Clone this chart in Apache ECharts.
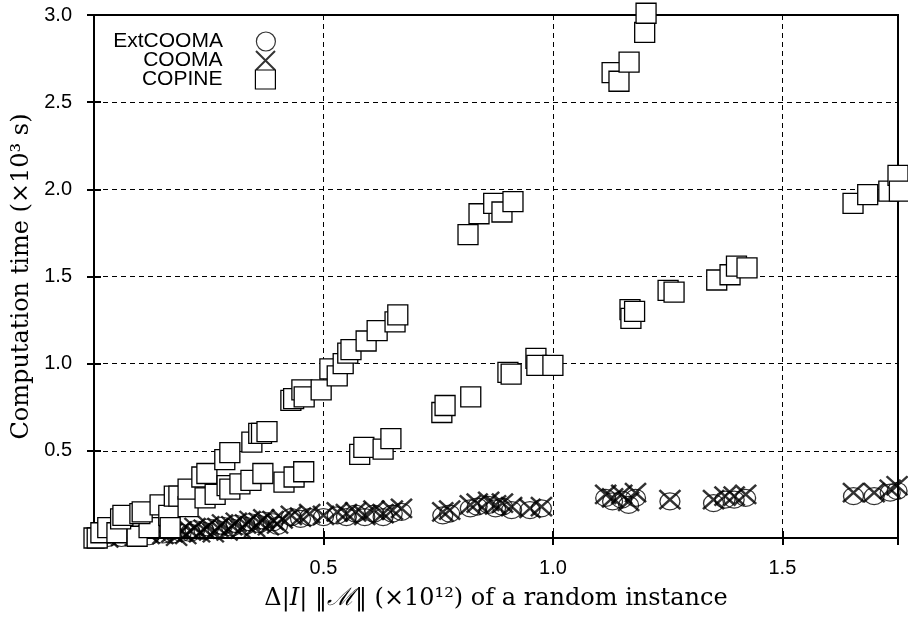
<!DOCTYPE html>
<html>
<head>
<meta charset="utf-8">
<script src="https://cdn.jsdelivr.net/npm/echarts@6/dist/echarts.min.js"></script>
<style>
  html, body { margin: 0; padding: 0; background: #fff; }
  #main { width: 908px; height: 619px; }
</style>
</head>
<body>
<div id="main"></div>
<script>
// axis ticks
var xTicks = [0.5, 1.0, 1.5];
var yTicks = [0.5, 1.0, 1.5, 2.0, 2.5, 3.0];

// ExtCOOMA results (x 10^12, x 10^3 s)
var extcoomaPoints = [
    [0.03, 0.00], [0.06, 0.00], [0.09, 0.01], [0.12, 0.01], [0.15, 0.02], [0.17, 0.02],
    [0.19, 0.03], [0.21, 0.03], [0.22, 0.05], [0.24, 0.04], [0.25, 0.06], [0.27, 0.05],
    [0.28, 0.07], [0.30, 0.06], [0.31, 0.08], [0.33, 0.07], [0.34, 0.09], [0.36, 0.08],
    [0.37, 0.10], [0.39, 0.09], [0.40, 0.07],
    [0.43, 0.12], [0.45, 0.11], [0.47, 0.12], [0.50, 0.12], [0.53, 0.13], [0.55, 0.12],
    [0.57, 0.14], [0.59, 0.12], [0.61, 0.14], [0.63, 0.12], [0.65, 0.14], [0.67, 0.15],
    [0.76, 0.13], [0.775, 0.14], [0.82, 0.17], [0.835, 0.18], [0.86, 0.19], [0.875, 0.17],
    [0.89, 0.18], [0.91, 0.16], [0.95, 0.16], [0.975, 0.17],
    [1.115, 0.23], [1.13, 0.21], [1.15, 0.22], [1.165, 0.19], [1.18, 0.23], [1.255, 0.21],
    [1.35, 0.20], [1.375, 0.22], [1.395, 0.22], [1.42, 0.23],
    [1.655, 0.24], [1.70, 0.24], [1.735, 0.26], [1.75, 0.27]
];

// COOMA results
var coomaPoints = [
    [0.03, 0.00], [0.06, 0.01], [0.09, 0.01], [0.12, 0.02], [0.15, 0.02], [0.17, 0.03],
    [0.18, 0.01], [0.19, 0.04], [0.20, 0.02], [0.21, 0.04], [0.22, 0.06], [0.23, 0.03],
    [0.24, 0.05], [0.25, 0.07], [0.26, 0.03], [0.27, 0.06], [0.28, 0.08], [0.29, 0.04],
    [0.30, 0.07], [0.31, 0.09], [0.32, 0.05], [0.33, 0.08], [0.34, 0.10], [0.35, 0.06],
    [0.36, 0.09], [0.37, 0.11], [0.38, 0.07], [0.39, 0.10], [0.40, 0.08], [0.41, 0.11],
    [0.43, 0.13], [0.45, 0.12], [0.47, 0.14], [0.50, 0.13], [0.53, 0.15], [0.55, 0.14],
    [0.57, 0.15], [0.59, 0.13], [0.61, 0.16], [0.63, 0.14], [0.65, 0.16], [0.67, 0.17],
    [0.76, 0.15], [0.775, 0.16], [0.82, 0.19], [0.835, 0.20], [0.86, 0.21], [0.875, 0.19],
    [0.89, 0.20], [0.91, 0.18], [0.95, 0.17], [0.975, 0.18],
    [1.115, 0.25], [1.13, 0.23], [1.15, 0.25], [1.165, 0.21], [1.18, 0.26], [1.255, 0.22],
    [1.35, 0.22], [1.375, 0.24], [1.395, 0.24], [1.42, 0.25],
    [1.655, 0.26], [1.70, 0.26], [1.735, 0.28], [1.75, 0.30]
];

// COPINE results
var copinePoints = [
    [0.0, 0.00], [0.007, 0.00], [0.015, 0.03], [0.03, 0.06], [0.05, 0.03], [0.094, 0.01], [0.12, 0.06],
    [0.058, 0.11], [0.063, 0.13], [0.10, 0.14], [0.105, 0.15], [0.144, 0.19], [0.163, 0.13], [0.166, 0.06],
    [0.175, 0.24], [0.185, 0.24], [0.205, 0.18], [0.205, 0.28], [0.235, 0.35], [0.242, 0.23],
    [0.246, 0.37], [0.264, 0.25], [0.285, 0.45], [0.29, 0.30], [0.296, 0.28], [0.296, 0.49],
    [0.318, 0.31], [0.342, 0.33], [0.344, 0.55], [0.359, 0.60], [0.365, 0.60], [0.368, 0.37],
    [0.377, 0.61], [0.414, 0.32], [0.429, 0.79], [0.435, 0.80], [0.436, 0.35], [0.453, 0.85],
    [0.457, 0.38], [0.458, 0.81], [0.495, 0.85], [0.514, 0.97], [0.53, 0.93], [0.543, 1.00],
    [0.553, 1.06], [0.56, 1.08], [0.579, 0.48], [0.588, 0.52], [0.593, 1.13], [0.617, 1.19],
    [0.630, 0.51], [0.647, 0.57], [0.656, 1.24], [0.662, 1.28],
    [0.758, 0.72], [0.765, 0.76], [0.815, 1.74], [0.821, 0.81], [0.839, 1.86], [0.871, 1.92],
    [0.889, 1.87], [0.902, 0.95], [0.909, 0.94], [0.913, 1.93], [0.963, 1.03], [0.965, 0.99],
    [1.000, 0.99], [1.129, 2.67], [1.144, 2.62], [1.166, 2.73], [1.168, 1.31], [1.170, 1.26],
    [1.178, 1.30], [1.200, 2.90], [1.203, 3.01], [1.251, 1.42], [1.264, 1.41],
    [1.357, 1.48], [1.386, 1.51], [1.40, 1.56], [1.423, 1.55],
    [1.654, 1.92], [1.686, 1.97], [1.732, 1.99], [1.752, 2.08], [1.755, 1.99]
];

var crossPath = 'path://M0,0L10,10M10,0L0,10';
var sansFont = '"Liberation Sans", Arial, Helvetica, sans-serif';
var serifFont = '"DejaVu Serif", "Liberation Serif", serif';

var chart = echarts.init(document.getElementById('main'));

function fmt(v) {
    return v.toFixed(1);
}

function legendAt(name, top, icon, style) {
    return {
        data: [{ name: name, icon: icon, itemStyle: style }],
        orient: 'vertical',
        align: 'right',
        right: 627,
        top: top,
        itemWidth: 20,
        itemHeight: 19,
        textStyle: { fontFamily: sansFont, fontSize: 21, color: '#000', padding: [0, 28, 0, 0] }
    };
}

var option = {
    backgroundColor: '#fff',
    animation: false,
    grid: {
        left: 94, right: 10, top: 15, bottom: 81,
        show: true, borderColor: '#000', borderWidth: 2, backgroundColor: 'transparent'
    },
    legend: [
        legendAt('ExtCOOMA', 26, 'circle', { color: 'rgba(0,0,0,0)', borderColor: '#000', borderWidth: 1.2 }),
        legendAt('COOMA', 45, crossPath, { color: 'rgba(0,0,0,0)', borderColor: '#000', borderWidth: 2 }),
        legendAt('COPINE', 64, 'rect', { color: '#fff', borderColor: '#000', borderWidth: 1.2 })
    ],
    xAxis: [{
        type: 'value', min: 0, max: 1.752, interval: 0.5,
        name: '{n|Δ|}{i|I}{n|| ‖}{i|ℳ}{n|‖ (×10¹²) of a random instance}',
        nameLocation: 'middle', nameGap: 49,
        nameTextStyle: {
            rich: {
                n: { fontFamily: serifFont, fontSize: 24, color: '#000' },
                i: { fontFamily: serifFont, fontSize: 24, fontStyle: 'italic', color: '#000' }
            }
        },
        axisLine: { show: true, lineStyle: { color: '#000', width: 2 } },
        axisTick: { show: true, inside: true, length: 7, lineStyle: { color: '#000', width: 2 } },
        axisLabel: {
            showMinLabel: false, showMaxLabel: false, margin: 20,
            fontFamily: sansFont, fontSize: 20, color: '#000', formatter: fmt
        },
        splitLine: { show: true, lineStyle: { color: '#000', width: 1, type: [5, 4] } }
    }, {
        type: 'value', min: 0, max: 1.752, interval: 0.5, position: 'top',
        axisLine: { show: false },
        axisTick: { show: true, inside: true, length: 7, lineStyle: { color: '#000', width: 2 } },
        axisLabel: { show: false },
        splitLine: { show: false }
    }],
    yAxis: [{
        type: 'value', min: 0, max: 3.0, interval: 0.5,
        name: 'Computation time (×10³ s)',
        nameLocation: 'middle', nameGap: 58,
        nameTextStyle: { fontFamily: serifFont, fontSize: 24, color: '#000' },
        axisLine: { show: true, lineStyle: { color: '#000', width: 2 } },
        axisTick: { show: true, inside: true, length: 7, lineStyle: { color: '#000', width: 2 } },
        axisLabel: {
            showMinLabel: false, margin: 22,
            fontFamily: sansFont, fontSize: 20, color: '#000', formatter: fmt
        },
        splitLine: { show: true, lineStyle: { color: '#000', width: 1, type: [5, 4] } }
    }, {
        type: 'value', min: 0, max: 3.0, interval: 0.5, position: 'right',
        axisLine: { show: false },
        axisTick: { show: true, inside: true, length: 7, lineStyle: { color: '#000', width: 2 } },
        axisLabel: { show: false },
        splitLine: { show: false }
    }],
    series: [{
        name: 'ExtCOOMA',
        type: 'scatter',
        symbol: 'circle',
        symbolSize: [20, 17],
        clip: false,
        itemStyle: { color: 'rgba(0,0,0,0)', borderColor: '#000', borderWidth: 1.2 },
        data: extcoomaPoints
    }, {
        name: 'COOMA',
        type: 'scatter',
        symbol: crossPath,
        symbolSize: [21, 19],
        clip: false,
        itemStyle: { color: 'rgba(0,0,0,0)', borderColor: '#000', borderWidth: 2.4 },
        data: coomaPoints
    }, {
        name: 'COPINE',
        type: 'scatter',
        symbol: 'rect',
        symbolSize: 20,
        clip: false,
        itemStyle: { color: '#fff', borderColor: '#000', borderWidth: 1.3, opacity: 1 },
        data: copinePoints
    }]
};

chart.setOption(option);
</script>
</body>
</html>
